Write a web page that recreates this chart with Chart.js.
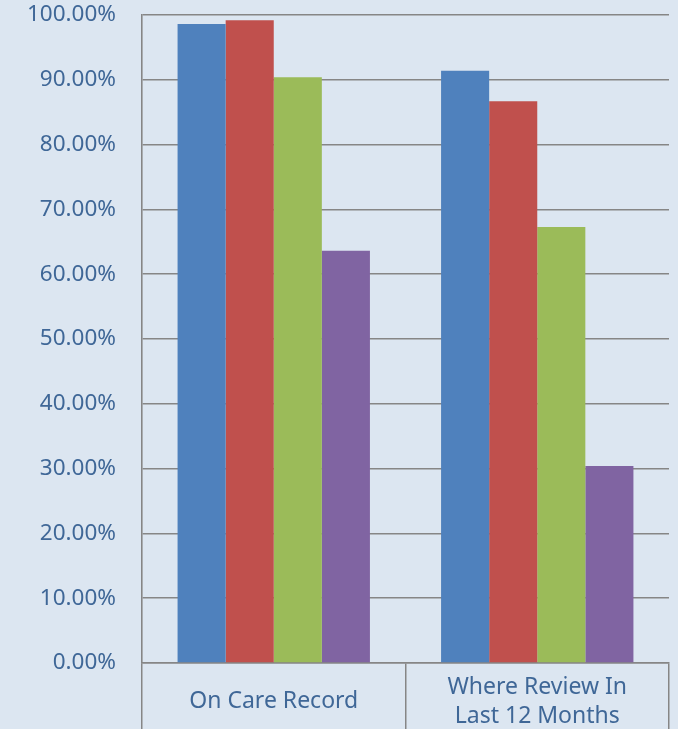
<!DOCTYPE html>
<html>
<head>
<meta charset="utf-8">
<script src="https://cdn.jsdelivr.net/npm/chart.js@4.4.1/dist/chart.umd.min.js"></script>
<style>
  html, body { margin: 0; padding: 0; background: #dce6f1; }
  #wrap { width: 678px; height: 729px; position: relative; }
</style>
</head>
<body>
<div id="wrap"><canvas id="careChart"></canvas></div>
<script>
// Categories and series values (percent)
const categories = [['On Care Record'], ['Where Review In', 'Last 12 Months']];
const series1 = [98.6, 91.4];
const series2 = [99.2, 86.7];
const series3 = [90.4, 67.3];
const series4 = [63.6, 30.4];
const seriesColors = ['#4f81bd', '#c0504d', '#9bbb59', '#8064a2'];

const yMin = 0;
const yMax = 100;
const yStep = 10;

const axisColor = '#868686';
const textColor = '#3f6797';

const ctx = document.getElementById('careChart').getContext('2d');

new Chart(ctx, {
  type: 'bar',
  data: {
    labels: categories,
    datasets: [series1, series2, series3, series4].map((values, i) => ({
      label: 'Series ' + (i + 1),
      data: values,
      backgroundColor: seriesColors[i],
      borderWidth: 0,
      categoryPercentage: 0.73,
      barPercentage: 1.0
    }))
  },
  options: {
    responsive: true,
    maintainAspectRatio: false,
    animation: false,
    layout: { padding: { top: 15, right: 9, left: 0, bottom: 0 } },
    plugins: {
      legend: { display: false },
      tooltip: { enabled: false }
    },
    scales: {
      x: {
        afterFit: (scale) => {
          scale.height = 66;
          scale.paddingTop = 0;
          scale.paddingBottom = 0;
        },
        grid: {
          offset: true,
          drawOnChartArea: false,
          drawTicks: true,
          tickLength: 66,
          color: axisColor,
          lineWidth: 1.5
        },
        border: { display: true, color: axisColor, width: 1.5 },
        ticks: {
          color: textColor,
          padding: -42,
          crossAlign: 'center',
          maxRotation: 0,
          font: { family: 'Noto Sans', size: 23, lineHeight: 1.3 }
        }
      },
      y: {
        min: yMin,
        max: yMax,
        afterFit: (scale) => {
          scale.width = 142;
          scale.paddingTop = 0;
          scale.paddingBottom = 0;
        },
        grid: {
          color: axisColor,
          lineWidth: 1.6,
          drawTicks: false
        },
        border: { display: true, color: axisColor, width: 1.6 },
        ticks: {
          stepSize: yStep,
          color: textColor,
          padding: 26,
          font: { family: 'Noto Sans', size: 22.5 },
          callback: (val) => val.toFixed(2) + '%'
        }
      }
    }
  }
});
</script>
</body>
</html>
